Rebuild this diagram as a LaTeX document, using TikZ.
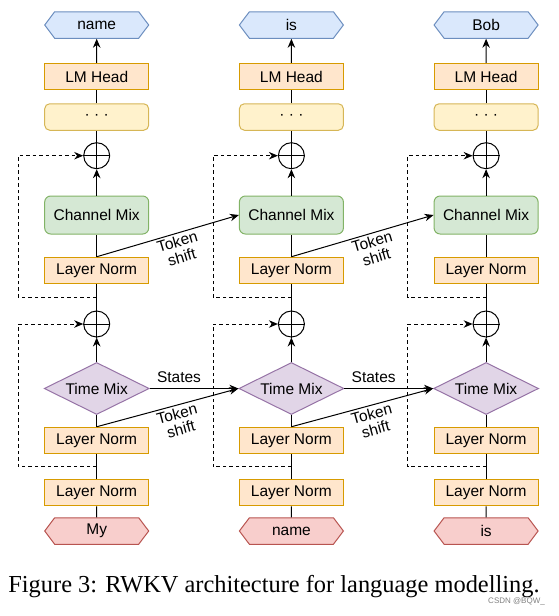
\documentclass[tikz,border=0pt]{standalone}
\usepackage{fontspec}
\setsansfont{Liberation Sans}
\newfontfamily\capfont{Liberation Serif}
\usetikzlibrary{arrows.meta,positioning,shapes.geometric,shapes.symbols,calc}
\definecolor{blueF}{HTML}{DAE8FC}
\definecolor{blueD}{HTML}{6C8EBF}
\definecolor{orangeF}{HTML}{FFE6CC}
\definecolor{orangeD}{HTML}{D79B00}
\definecolor{yellowF}{HTML}{FFF2CC}
\definecolor{yellowD}{HTML}{D6B656}
\definecolor{greenF}{HTML}{D5E8D4}
\definecolor{greenD}{HTML}{82B366}
\definecolor{purpleF}{HTML}{E1D5E7}
\definecolor{purpleD}{HTML}{9673A6}
\definecolor{redF}{HTML}{F8CECC}
\definecolor{redD}{HTML}{B85450}

\begin{document}
\begin{tikzpicture}[
    x=1pt, y=1pt,
    txt/.style={font=\sffamily\fontsize{15.5}{16}\selectfont},
    box/.style={txt, rectangle, draw=orangeD, fill=orangeF, line width=1pt, minimum width=104pt, minimum height=26.5pt, inner sep=0pt},
    dotsbox/.style={txt, rectangle, rounded corners=5pt, draw=yellowD, fill=yellowF, line width=1pt, minimum width=104pt, minimum height=26.5pt, inner sep=0pt},
    mix/.style={txt, rectangle, rounded corners=6pt, draw=greenD, fill=greenF, line width=1pt, minimum width=104pt, minimum height=38pt, inner sep=0pt},
    tmix/.style={txt, diamond, aspect=2, draw=purpleD, fill=purpleF, line width=1pt, minimum width=105pt, minimum height=52pt, inner sep=0pt},
    outtok/.style={txt, signal, signal to=west and east, signal pointer angle=106, draw=blueD, fill=blueF, line width=1pt, minimum width=104pt, minimum height=26.5pt, inner sep=0pt},
    intok/.style={outtok, draw=redD, fill=redF},
    add/.style={circle, draw, line width=1pt, minimum size=26pt, inner sep=0pt},
    line/.style={line width=1pt},
    arrow/.style={-{Stealth[length=9pt, width=7.5pt]}, line width=1pt},
    resid/.style={arrow, dash pattern=on 3.5pt off 3pt},
    shiftlbl/.style={txt, sloped, below, align=center, inner sep=2pt, pos=0.55}
]
\useasboundingbox (0,0) rectangle (558,-616);

\foreach \i/\w/\o in {1/My/name, 2/name/is, 3/is/Bob} {
    \pgfmathsetmacro\cx{96.7+(\i-1)*194.7}

    % Input token and embedding norm
    \node[intok] (in-\i) at (\cx,-531) {\w};
    \node[box] (ln0-\i) at (\cx,-492.5) {Layer Norm};

    % Time mixing block
    \node[box] (ln1-\i) at (\cx,-440.5) {Layer Norm};
    \node[tmix] (tm-\i) at (\cx,-388.5) {Time Mix};
    \node[add] (add1-\i) at (\cx,-324) {};

    % Channel mixing block
    \node[box] (ln2-\i) at (\cx,-270.5) {Layer Norm};
    \node[mix] (cm-\i) at (\cx,-215) {Channel Mix};
    \node[add] (add2-\i) at (\cx,-155.7) {};

    % Output head
    \node[dotsbox] (dots-\i) at (\cx,-117) {·~·~·};
    \node[box] (head-\i) at (\cx,-76.7) {LM Head};
    \node[outtok] (out-\i) at (\cx,-25) {\o};

    % Residual branch points
    \coordinate (j1-\i) at (\cx,-466.7);
    \coordinate (c1-\i) at (\cx-78.4,-466.7);
    \coordinate (j2-\i) at (\cx,-297);
    \coordinate (c2-\i) at (\cx-78.4,-297);

    % Main path
    \draw[line] (in-\i) -- (ln0-\i);
    \draw[line] (ln0-\i) -- (ln1-\i);
    \draw[line] (ln1-\i) -- (tm-\i);
    \draw[arrow] (tm-\i) -- (add1-\i);
    \draw[line] (add1-\i) -- (ln2-\i);
    \draw[line] (ln2-\i) -- (cm-\i);
    \draw[arrow] (cm-\i) -- (add2-\i);
    \draw[line] (add2-\i) -- (dots-\i);
    \draw[line] (dots-\i) -- (head-\i);
    \draw[arrow] (head-\i) -- (out-\i);

    % Plus signs
    \draw[line] (add1-\i.north) -- (add1-\i.south) (add1-\i.west) -- (add1-\i.east);
    \draw[line] (add2-\i.north) -- (add2-\i.south) (add2-\i.west) -- (add2-\i.east);

    % Residual connections
    \draw[resid] (j1-\i) -- (c1-\i) |- (add1-\i);
    \draw[resid] (j2-\i) -- (c2-\i) |- (add2-\i);
}

% Links between time steps
\foreach \i/\j in {1/2, 2/3} {
    \draw[arrow] (tm-\i.east) -- node[txt, above=2pt, pos=0.33] {States} (tm-\j.west);
    \draw[arrow] (ln1-\i.north) -- node[shiftlbl] {Token\\shift} (tm-\j.west);
    \draw[arrow] (ln2-\i.north) -- node[shiftlbl] {Token\\shift} (cm-\j.west);
}

% Caption
\node[font=\capfont\fontsize{24.4}{27}\selectfont, anchor=base] (cap) at (274,-592.5) {Figure 3: RWKV architecture for language modelling.};
\node[font=\sffamily\fontsize{8}{9}\selectfont, text=gray, anchor=base east, inner sep=0pt] (mark) at (545,-603) {CSDN @BQW\_};

\end{tikzpicture}
\end{document}
